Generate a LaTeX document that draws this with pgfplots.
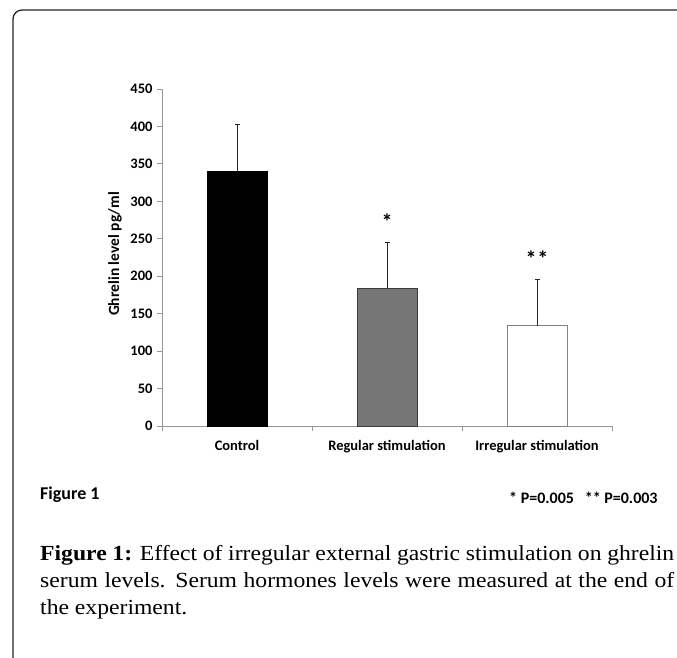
\documentclass[border=0pt]{standalone}
\usepackage{fontspec}
\setmainfont{Liberation Serif}[FakeStretch=1.1]
\newfontfamily\calfont{Carlito}
\usepackage{pgfplots}
\pgfplotsset{compat=1.18}
\definecolor{axgray}{RGB}{150,150,150}
\definecolor{barmid}{RGB}{118,118,118}
\definecolor{bardark}{RGB}{60,60,60}
\definecolor{barlight}{RGB}{130,130,130}
\begin{document}
\begin{tikzpicture}[x=1pt,y=1pt]
\useasboundingbox (0,0) rectangle (677,-657);
\begin{scope}
\clip (0,0) rectangle (677,-657);
\draw[line width=1.3pt, black!85, rounded corners=9pt] (13,-700) -- (13,-10) -- (720,-10);
\end{scope}
\begin{axis}[
  at={(162pt,-426pt)}, anchor=south west,
  scale only axis, width=450pt, height=337pt,
  xmin=-0.5, xmax=2.5, ymin=0, ymax=450,
  axis x line*=bottom, axis y line*=left,
  axis line style={axgray, line width=0.8pt},
  ytick={0,50,...,450},
  xtick={-0.5,0.5,1.5,2.5},
  xticklabels={Control,Regular stimulation,Irregular stimulation,},
  x tick label as interval,
  tick align=outside, major tick length=5pt,
  tick style={axgray, line width=0.8pt},
  /pgf/number format/assume math mode=true,
  tick label style={font=\calfont\bfseries\fontsize{14.5}{16}\selectfont, text=black},
  yticklabel style={xshift=-1pt},
  xticklabel style={yshift=-6pt},
  clip=false,
]
\addplot[ybar, bar width=0.4, bar shift=0pt, fill=black, draw=black,
  error bars/.cd, y dir=plus, y explicit, error bar style={black!85, line width=0.8pt}, error mark options={black!85, line width=0.8pt, mark size=2.5pt, rotate=90}]
  coordinates {(0,340.5) +- (0,62.8)};
\addplot[ybar, bar width=0.4, bar shift=0pt, fill=barmid, draw=bardark, line width=0.9pt,
  error bars/.cd, y dir=plus, y explicit, error bar style={black!85, line width=0.8pt}, error mark options={black!85, line width=0.8pt, mark size=2.5pt, rotate=90}]
  coordinates {(1,184.3) +- (0,61.4)};
\addplot[ybar, bar width=0.4, bar shift=0pt, fill=white, draw=barlight, line width=0.9pt,
  error bars/.cd, y dir=plus, y explicit, error bar style={black!85, line width=0.8pt}, error mark options={black!85, line width=0.8pt, mark size=2.5pt, rotate=90}]
  coordinates {(2,133.8) +- (0,62.5)};
\node[font=\calfont\bfseries\fontsize{22}{24}\selectfont] at (axis cs:1,272.4) {*};
\node[font=\calfont\bfseries\fontsize{22}{24}\selectfont] at (axis cs:2,223.5) {*\kern1pt*};
\end{axis}
\node[rotate=90, font=\calfont\bfseries\fontsize{15.5}{17}\selectfont] at (115,-254) {Ghrelin level pg/ml};
\node[anchor=base west, inner sep=0, font=\calfont\bfseries\fontsize{18}{20}\selectfont] at (40,-499) {Figure 1};
\node[anchor=base west, inner sep=0, font=\calfont\bfseries\fontsize{16}{18}\selectfont] at (509,-503) {* P=0.005\ \ \ ** P=0.003};
\node[anchor=north west, inner sep=0, text width=634pt, align=justify, font=\fontsize{21.5}{27}\selectfont] at (40,-545) {\textbf{Figure 1:} Effect of irregular external gastric stimulation on ghrelin serum levels. Serum hormones levels were measured at the end of the experiment.};
\end{tikzpicture}
\end{document}
